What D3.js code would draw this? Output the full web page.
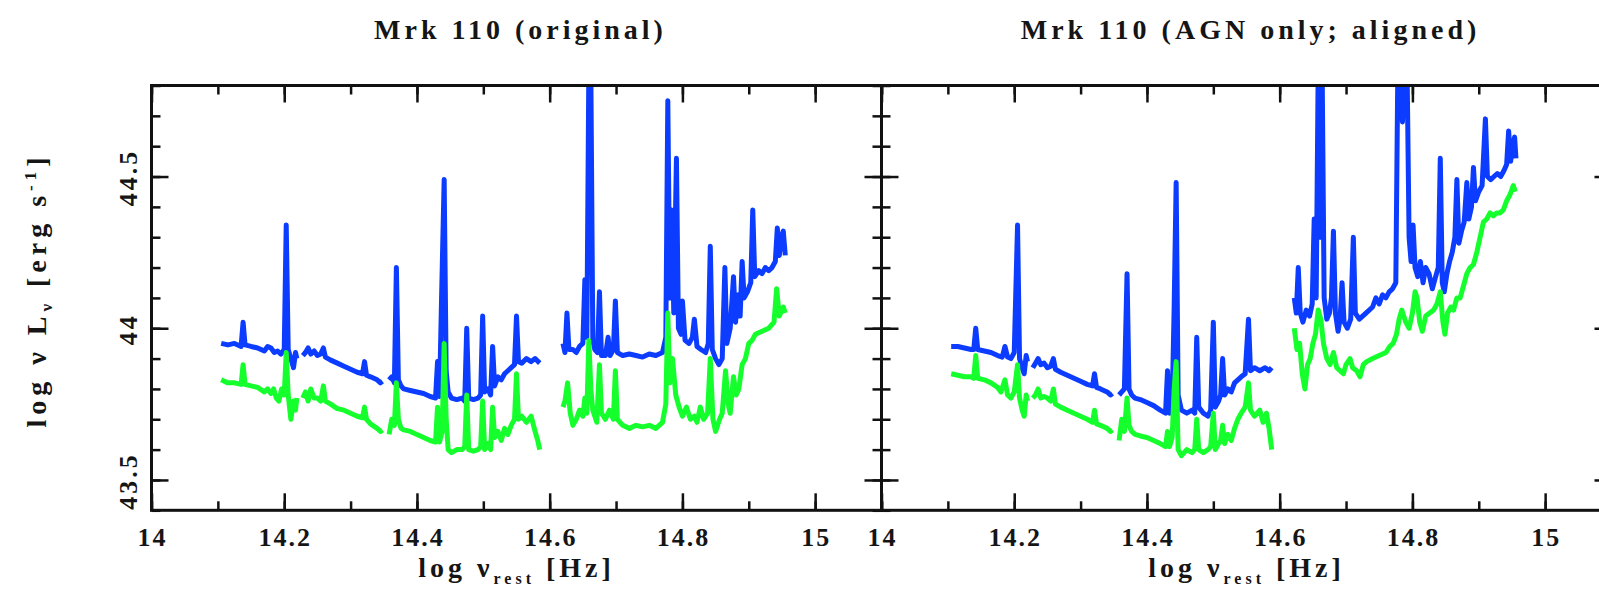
<!DOCTYPE html>
<html>
<head>
<meta charset="utf-8">
<script src="https://cdn.jsdelivr.net/npm/d3@7"></script>
<style>
  body { margin: 0; background: #fff; }
  svg { display: block; }
  text { font-family: "Liberation Serif", "DejaVu Serif", serif; font-weight: bold; fill: #151515; }
</style>
</head>
<body>
<svg id="chart" width="1599" height="592"></svg>
<script>
// ---- data (log nu, log nuLnu), gaps split into segments ----
const titles = ["Mrk 110 (original)", "Mrk 110 (AGN only; aligned)"]
const xTicks = [14, 14.2, 14.4, 14.6, 14.8, 15]
const yTicks = [43.5, 44, 44.5]
const xDomain = [14, 15.1]
const yDomain = [43.4, 44.8]

const origBlue = [
  [[14.105,43.95],[14.115,43.945],[14.125,43.95],[14.135,43.94],[14.138,44.02],[14.141,43.945],[14.15,43.94],[14.16,43.935],[14.17,43.925],[14.175,43.94],[14.18,43.935],[14.185,43.92],[14.19,43.925],[14.195,43.915],[14.2,43.93],[14.203,44.34],[14.206,43.93],[14.21,43.9],[14.214,43.87],[14.217,43.92],[14.219,43.9]],
  [[14.228,43.91],[14.232,43.92],[14.236,43.935],[14.24,43.915],[14.245,43.925],[14.25,43.91],[14.255,43.915],[14.259,43.935],[14.262,43.905],[14.27,43.895],[14.28,43.885],[14.29,43.875],[14.3,43.865],[14.31,43.855],[14.318,43.85],[14.321,43.89],[14.324,43.845],[14.33,43.84],[14.34,43.83],[14.345,43.82],[14.348,43.825]],
  [[14.358,43.83],[14.362,43.84],[14.366,43.82],[14.369,44.2],[14.372,43.83],[14.376,43.81],[14.38,43.8],[14.39,43.795],[14.4,43.79],[14.41,43.785],[14.42,43.775],[14.428,43.77],[14.431,43.89],[14.434,43.775],[14.437,44.09],[14.441,44.49],[14.444,43.86],[14.447,43.79],[14.452,43.77],[14.46,43.765],[14.468,43.77],[14.472,43.76],[14.475,44.0],[14.478,43.77],[14.485,43.765],[14.492,43.77],[14.496,43.78],[14.499,44.04],[14.502,43.79],[14.507,43.8],[14.511,43.78],[14.514,43.94],[14.517,43.81],[14.522,43.84],[14.527,43.83],[14.532,43.85],[14.537,43.86],[14.542,43.87],[14.547,43.88],[14.55,44.04],[14.553,43.89],[14.558,43.885],[14.565,43.9],[14.572,43.89],[14.578,43.9],[14.585,43.885]],
  [[14.62,43.95],[14.623,43.92],[14.626,44.05],[14.629,43.93],[14.635,43.93],[14.64,43.92],[14.645,43.94],[14.65,43.95],[14.653,44.16],[14.656,43.97],[14.659,44.85],[14.662,44.85],[14.665,43.96],[14.668,43.93],[14.672,43.92],[14.675,44.12],[14.678,43.91],[14.684,43.91],[14.688,43.97],[14.691,43.91],[14.696,43.93],[14.699,44.09],[14.702,43.92],[14.71,43.91],[14.72,43.915],[14.73,43.91],[14.74,43.905],[14.75,43.915],[14.76,43.91],[14.77,43.92],[14.775,43.97],[14.778,44.75],[14.781,44.1],[14.784,44.39],[14.787,44.05],[14.791,44.56],[14.794,44.0],[14.798,43.98],[14.8,44.09],[14.804,43.96],[14.81,43.95],[14.815,43.97],[14.818,44.03],[14.822,43.94],[14.828,43.93],[14.835,43.92],[14.839,43.95],[14.842,44.27],[14.845,43.93],[14.85,43.9],[14.855,43.88],[14.86,43.9],[14.864,44.2],[14.867,43.95],[14.872,44.0],[14.877,44.17],[14.88,44.02],[14.884,44.11],[14.887,44.04],[14.89,44.22],[14.893,44.1],[14.898,44.12],[14.903,44.15],[14.906,44.39],[14.909,44.17],[14.915,44.19],[14.92,44.18],[14.925,44.2],[14.93,44.19],[14.935,44.2],[14.94,44.22],[14.943,44.33],[14.946,44.24],[14.949,44.3],[14.952,44.32],[14.955,44.24]]
]

const origGreen = [
  [[14.105,43.83],[14.115,43.82],[14.125,43.82],[14.135,43.815],[14.138,43.88],[14.141,43.815],[14.15,43.81],[14.16,43.805],[14.17,43.79],[14.175,43.8],[14.18,43.785],[14.184,43.8],[14.188,43.77],[14.192,43.76],[14.196,43.8],[14.2,43.78],[14.203,43.92],[14.206,43.78],[14.21,43.7],[14.214,43.76],[14.217,43.73],[14.219,43.77]],
  [[14.228,43.77],[14.232,43.79],[14.236,43.76],[14.24,43.8],[14.245,43.77],[14.25,43.77],[14.255,43.76],[14.259,43.81],[14.262,43.76],[14.27,43.75],[14.28,43.735],[14.29,43.73],[14.3,43.72],[14.31,43.71],[14.318,43.705],[14.321,43.74],[14.324,43.7],[14.33,43.685],[14.34,43.67],[14.345,43.66],[14.348,43.665]],
  [[14.358,43.65],[14.362,43.7],[14.366,43.68],[14.369,43.82],[14.372,43.7],[14.376,43.67],[14.38,43.665],[14.39,43.66],[14.4,43.65],[14.41,43.64],[14.42,43.63],[14.428,43.625],[14.431,43.74],[14.434,43.625],[14.438,43.66],[14.441,43.95],[14.444,43.7],[14.447,43.6],[14.452,43.59],[14.46,43.6],[14.468,43.6],[14.472,43.61],[14.475,43.78],[14.478,43.6],[14.485,43.595],[14.492,43.6],[14.496,43.61],[14.499,43.76],[14.502,43.6],[14.507,43.62],[14.511,43.6],[14.514,43.74],[14.517,43.64],[14.522,43.66],[14.527,43.63],[14.532,43.67],[14.537,43.65],[14.542,43.68],[14.547,43.7],[14.55,43.85],[14.553,43.7],[14.558,43.71],[14.565,43.69],[14.572,43.71],[14.578,43.66],[14.582,43.63],[14.585,43.6]],
  [[14.62,43.74],[14.623,43.76],[14.627,43.82],[14.631,43.72],[14.635,43.68],[14.64,43.7],[14.645,43.73],[14.65,43.71],[14.653,43.77],[14.656,43.72],[14.659,43.96],[14.662,43.8],[14.665,43.73],[14.671,43.69],[14.675,43.88],[14.678,43.72],[14.684,43.7],[14.69,43.73],[14.696,43.7],[14.699,43.86],[14.702,43.7],[14.71,43.68],[14.72,43.67],[14.73,43.68],[14.74,43.675],[14.75,43.68],[14.76,43.67],[14.77,43.69],[14.775,43.75],[14.778,44.05],[14.781,43.82],[14.785,43.9],[14.79,43.78],[14.795,43.74],[14.8,43.71],[14.806,43.74],[14.812,43.7],[14.818,43.71],[14.822,43.69],[14.827,43.74],[14.832,43.7],[14.838,43.72],[14.842,43.9],[14.846,43.7],[14.85,43.66],[14.856,43.7],[14.86,43.72],[14.865,43.86],[14.869,43.75],[14.872,43.72],[14.877,43.84],[14.881,43.78],[14.885,43.8],[14.89,43.88],[14.895,43.9],[14.9,43.95],[14.905,43.96],[14.91,43.98],[14.92,43.99],[14.93,44.0],[14.938,44.02],[14.942,44.13],[14.946,44.04],[14.952,44.07],[14.955,44.05]]
]

const agnBlue = [
  [[14.105,43.94],[14.115,43.94],[14.125,43.935],[14.135,43.93],[14.139,43.93],[14.142,44.0],[14.145,43.93],[14.155,43.925],[14.165,43.92],[14.175,43.91],[14.182,43.905],[14.186,43.94],[14.19,43.905],[14.195,43.9],[14.2,43.92],[14.205,44.34],[14.208,43.9],[14.212,43.87],[14.215,43.85],[14.218,43.91],[14.22,43.89]],
  [[14.228,43.87],[14.232,43.885],[14.236,43.9],[14.24,43.88],[14.245,43.885],[14.25,43.87],[14.255,43.875],[14.259,43.9],[14.262,43.865],[14.27,43.855],[14.28,43.845],[14.29,43.835],[14.3,43.825],[14.31,43.815],[14.318,43.81],[14.321,43.85],[14.324,43.805],[14.33,43.8],[14.34,43.79],[14.345,43.78],[14.348,43.785]],
  [[14.358,43.78],[14.362,43.79],[14.366,43.8],[14.37,44.18],[14.373,43.8],[14.377,43.78],[14.382,43.77],[14.39,43.765],[14.4,43.755],[14.41,43.745],[14.42,43.73],[14.428,43.72],[14.431,43.86],[14.434,43.72],[14.438,43.75],[14.441,44.07],[14.444,44.48],[14.447,43.78],[14.452,43.73],[14.46,43.72],[14.468,43.73],[14.472,43.72],[14.475,43.97],[14.478,43.74],[14.485,43.72],[14.492,43.71],[14.496,43.73],[14.5,44.02],[14.503,43.74],[14.508,43.76],[14.511,43.78],[14.514,43.9],[14.517,43.78],[14.522,43.8],[14.527,43.79],[14.532,43.82],[14.537,43.83],[14.542,43.84],[14.548,43.85],[14.553,44.03],[14.556,43.86],[14.562,43.87],[14.57,43.86],[14.578,43.87],[14.584,43.86],[14.588,43.87]],
  [[14.622,44.1],[14.625,44.05],[14.628,44.2],[14.631,44.05],[14.635,44.02],[14.64,44.06],[14.645,44.04],[14.649,44.08],[14.652,44.36],[14.655,44.1],[14.658,44.85],[14.661,44.3],[14.664,44.85],[14.667,44.1],[14.671,44.03],[14.675,44.05],[14.678,44.1],[14.681,44.32],[14.684,44.05],[14.688,43.99],[14.691,44.03],[14.694,44.15],[14.697,44.02],[14.702,44.0],[14.707,44.03],[14.711,44.3],[14.714,44.05],[14.72,44.03],[14.73,44.05],[14.74,44.07],[14.745,44.1],[14.75,44.08],[14.755,44.11],[14.76,44.1],[14.765,44.12],[14.77,44.13],[14.775,44.15],[14.778,44.85],[14.781,44.85],[14.785,44.68],[14.789,44.85],[14.792,44.85],[14.795,44.3],[14.798,44.22],[14.801,44.34],[14.804,44.2],[14.808,44.17],[14.812,44.22],[14.816,44.15],[14.82,44.2],[14.825,44.18],[14.83,44.13],[14.835,44.17],[14.839,44.2],[14.842,44.56],[14.845,44.15],[14.848,44.12],[14.852,44.18],[14.856,44.22],[14.86,44.25],[14.864,44.3],[14.867,44.49],[14.87,44.28],[14.874,44.32],[14.878,44.35],[14.882,44.48],[14.885,44.36],[14.889,44.4],[14.892,44.53],[14.895,44.42],[14.9,44.45],[14.905,44.47],[14.91,44.69],[14.913,44.5],[14.918,44.49],[14.923,44.5],[14.928,44.51],[14.933,44.5],[14.938,44.52],[14.942,44.54],[14.945,44.65],[14.948,44.55],[14.951,44.6],[14.954,44.63],[14.956,44.56]]
]

const agnGreen = [
  [[14.105,43.85],[14.115,43.845],[14.125,43.84],[14.135,43.84],[14.139,43.835],[14.142,43.91],[14.145,43.835],[14.155,43.83],[14.165,43.82],[14.175,43.805],[14.18,43.79],[14.186,43.83],[14.19,43.78],[14.195,43.77],[14.2,43.79],[14.205,43.88],[14.208,43.77],[14.212,43.73],[14.215,43.71],[14.218,43.78],[14.22,43.76]],
  [[14.228,43.77],[14.232,43.78],[14.236,43.8],[14.24,43.77],[14.245,43.775],[14.25,43.77],[14.255,43.76],[14.259,43.8],[14.262,43.75],[14.27,43.74],[14.28,43.73],[14.29,43.72],[14.3,43.71],[14.31,43.7],[14.318,43.69],[14.321,43.73],[14.324,43.685],[14.33,43.68],[14.34,43.67],[14.345,43.66],[14.348,43.665]],
  [[14.358,43.63],[14.362,43.7],[14.366,43.66],[14.37,43.77],[14.373,43.68],[14.377,43.66],[14.382,43.65],[14.39,43.645],[14.4,43.64],[14.41,43.63],[14.42,43.62],[14.428,43.61],[14.431,43.66],[14.434,43.61],[14.438,43.64],[14.441,43.8],[14.444,43.89],[14.447,43.6],[14.452,43.58],[14.46,43.6],[14.468,43.59],[14.472,43.6],[14.475,43.7],[14.478,43.6],[14.485,43.59],[14.492,43.6],[14.496,43.61],[14.5,43.72],[14.503,43.6],[14.508,43.62],[14.511,43.63],[14.514,43.68],[14.517,43.62],[14.522,43.65],[14.527,43.63],[14.532,43.67],[14.537,43.7],[14.542,43.72],[14.548,43.74],[14.553,43.82],[14.556,43.73],[14.562,43.71],[14.57,43.73],[14.575,43.69],[14.58,43.72],[14.584,43.67],[14.588,43.6]],
  [[14.622,44.0],[14.626,43.93],[14.63,43.95],[14.634,43.85],[14.638,43.8],[14.642,43.88],[14.646,43.9],[14.65,43.95],[14.654,43.98],[14.658,44.06],[14.662,44.03],[14.666,43.95],[14.671,43.9],[14.676,43.88],[14.681,43.92],[14.686,43.87],[14.691,43.86],[14.696,43.85],[14.7,43.88],[14.706,43.9],[14.71,43.87],[14.716,43.86],[14.721,43.84],[14.726,43.88],[14.731,43.89],[14.74,43.9],[14.75,43.91],[14.76,43.92],[14.766,43.94],[14.771,43.95],[14.776,43.98],[14.78,44.03],[14.784,44.06],[14.79,44.02],[14.795,44.0],[14.8,44.05],[14.804,44.12],[14.807,44.1],[14.811,44.02],[14.815,43.99],[14.82,44.04],[14.826,44.05],[14.832,44.06],[14.837,44.08],[14.842,44.12],[14.846,44.02],[14.849,43.98],[14.853,44.05],[14.858,44.07],[14.862,44.06],[14.867,44.1],[14.872,44.1],[14.877,44.14],[14.882,44.18],[14.887,44.2],[14.892,44.21],[14.897,44.25],[14.902,44.3],[14.907,44.35],[14.912,44.36],[14.917,44.38],[14.922,44.37],[14.927,44.38],[14.932,44.38],[14.937,44.39],[14.942,44.42],[14.947,44.44],[14.952,44.47],[14.955,44.45]]
]

const blue = "#0b3cff"
const green = "#14ff2c"

const svg = d3.select("#chart")
const panels = [
  {x0: 151.5, x1: 881.5, title: titles[0], blue: origBlue, green: origGreen, labels: true},
  {x0: 881.5, x1: 1611.5, title: titles[1], blue: agnBlue, green: agnGreen, labels: false}
]
const plotTop = 85.5
const plotBottom = 510.3
const minorX = d3.range(140, 152).map(d => d / 10)
const minorY = d3.range(434, 449).map(d => d / 10)

panels.forEach((p, i) => {
  const x = d3.scaleLinear().domain(xDomain).range([p.x0, p.x1])
  const y = d3.scaleLinear().domain(yDomain).range([plotBottom, plotTop])
  const g = svg.append("g")

  g.append("clipPath").attr("id", "clip" + i)
    .append("rect").attr("x", p.x0).attr("y", plotTop).attr("width", p.x1 - p.x0).attr("height", plotBottom - plotTop)

  const line = d3.line().x(d => x(d[0])).y(d => y(d[1]))
  const plot = g.append("g").attr("clip-path", `url(#clip${i})`)
  const draw = (segs, color) => plot.append("g").selectAll("path").data(segs).join("path")
    .attr("d", line).attr("fill", "none").attr("stroke", color)
    .attr("stroke-width", 5).attr("stroke-linejoin", "round")
  draw(p.blue, blue)
  draw(p.green, green)

  // ticks on all four sides, pointing inward
  const tickStyle = sel => {
    sel.select(".domain").remove()
    sel.selectAll("line").attr("stroke", "#111").attr("stroke-width", 2.5)
    sel.selectAll("text").remove()
  }
  const axes = [
    [d3.axisBottom(x), `translate(0,${plotBottom})`, xTicks, minorX],
    [d3.axisTop(x), `translate(0,${plotTop})`, xTicks, minorX],
    [d3.axisLeft(y), `translate(${p.x0},0)`, yTicks, minorY],
    [d3.axisRight(y), `translate(${p.x1},0)`, yTicks, minorY]
  ]
  axes.forEach(([ax, tr, major, minor]) => {
    g.append("g").attr("transform", tr).call(ax.tickValues(minor).tickSize(-9).tickSizeOuter(0)).call(tickStyle)
    g.append("g").attr("transform", tr).call(ax.tickValues(major).tickSize(-17).tickSizeOuter(0)).call(tickStyle)
  })

  g.append("rect").attr("x", p.x0).attr("y", plotTop).attr("width", p.x1 - p.x0).attr("height", plotBottom - plotTop)
    .attr("fill", "none").attr("stroke", "#111").attr("stroke-width", 3)

  // x tick labels
  g.append("g").selectAll("text").data(xTicks).join("text")
    .attr("x", d => x(d) + 1).attr("y", 546).attr("text-anchor", "middle")
    .attr("font-size", 26).attr("letter-spacing", 2).text(d => d)

  // y tick labels (left panel only), rotated
  if (p.labels) {
    g.append("g").selectAll("text").data(yTicks).join("text")
      .attr("transform", d => `translate(137,${y(d) + 1}) rotate(-90)`)
      .attr("text-anchor", "middle").attr("font-size", 26).attr("letter-spacing", 3).text(d => d)

    const yl = g.append("text").attr("transform", "translate(46,290) rotate(-90)")
      .attr("text-anchor", "middle").attr("font-size", 28).attr("letter-spacing", 5)
    yl.append("tspan").text("log ν L")
    yl.append("tspan").attr("font-size", 17).attr("dy", 6).text("ν")
    yl.append("tspan").attr("dy", -6).text(" [erg s")
    yl.append("tspan").attr("font-size", 17).attr("dy", -10).text("-1")
    yl.append("tspan").attr("dy", 10).text("]")
  }

  // panel title
  g.append("text").attr("x", (p.x0 + p.x1) / 2 + 4).attr("y", 39)
    .attr("text-anchor", "middle").attr("font-size", 28).attr("letter-spacing", 4).text(p.title)

  // x axis title
  const xl = g.append("text").attr("x", (p.x0 + p.x1) / 2).attr("y", 577)
    .attr("text-anchor", "middle").attr("font-size", 28).attr("letter-spacing", 4)
  xl.append("tspan").text("log ν")
  xl.append("tspan").attr("font-size", 16).attr("dy", 7).text("rest")
  xl.append("tspan").attr("dy", -7).text(" [Hz]")
})
</script>
</body>
</html>
